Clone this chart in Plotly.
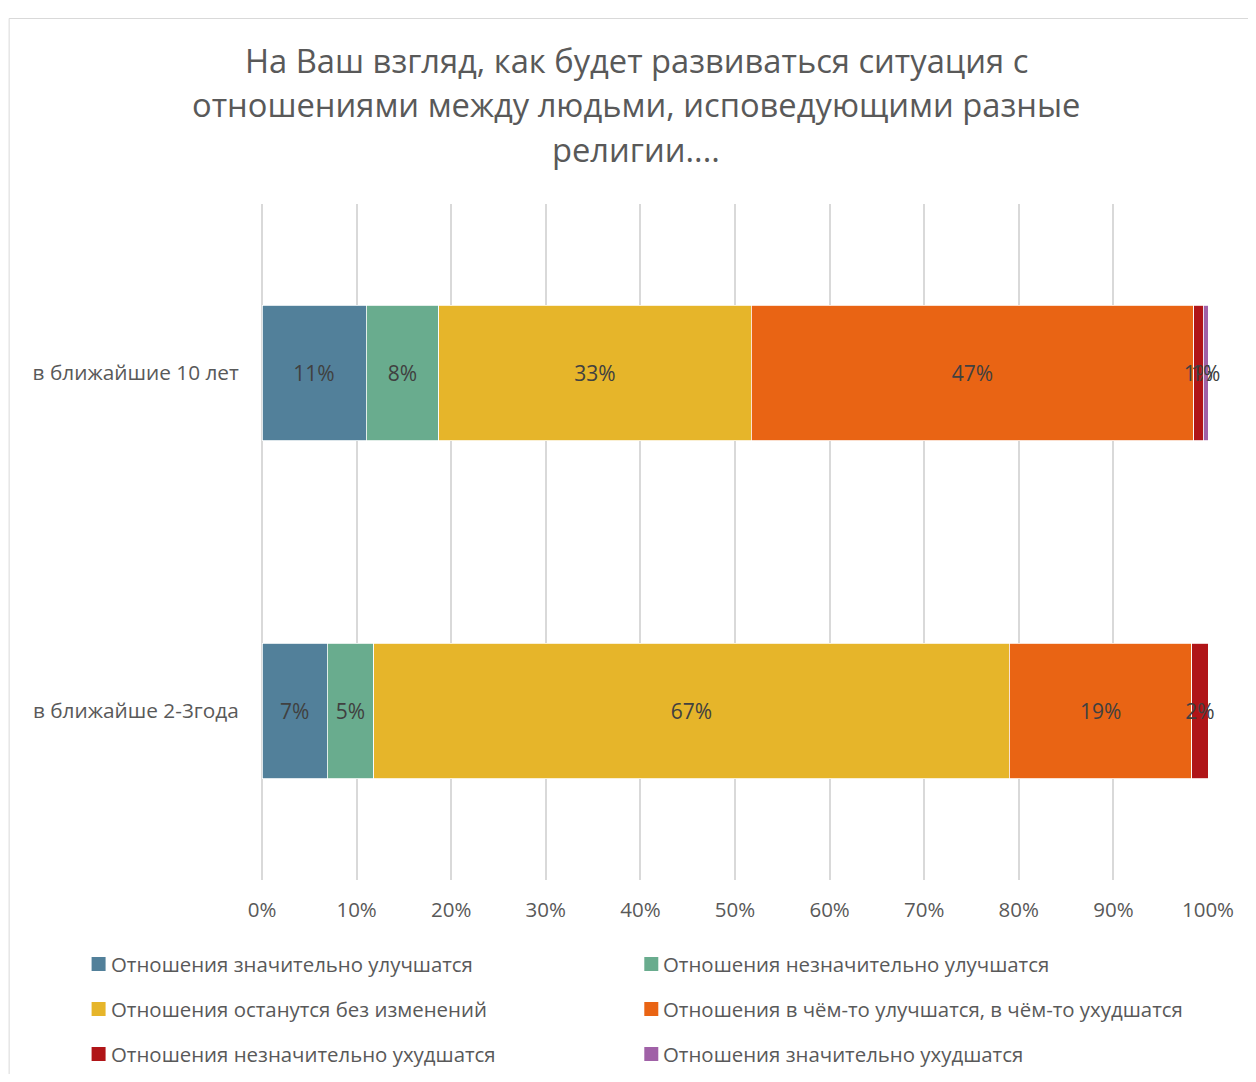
import plotly.graph_objects as go

categories = ["в ближайше 2-3года", "в ближайшие 10 лет"]
series_names = [
    "Отношения значительно улучшатся",
    "Отношения незначительно улучшатся",
    "Отношения останутся без изменений",
    "Отношения в чём-то улучшатся, в чём-то ухудшатся",
    "Отношения незначительно ухудшатся",
    "Отношения значительно ухудшатся",
]
# values per series: [2-3 years, 10 years]
values = [
    [6.9, 11.0],
    [4.9, 7.7],
    [67.2, 33.0],
    [19.3, 46.8],
    [1.7, 1.0],
    [0.0, 0.5],
]
colors = ["#52809a", "#69ac8e", "#e6b52a", "#e96414", "#b01518", "#a061a7"]
x_ticks = [0, 10, 20, 30, 40, 50, 60, 70, 80, 90, 100]
title_lines = [
    "На Ваш взгляд, как будет развиваться ситуация с",
    "отношениями между людьми, исповедующими разные",
    "религии....",
]

FONT = "Open Sans"
W, H = 1240, 1066
ML, MR, MT, MB = 253.5, 40, 196, 194
PW, PH = W - ML - MR, H - MT - MB


def px_x(p):
    return (p - ML) / PW


def px_y(p):
    return (H - MB - p) / PH


fig = go.Figure()
for name, vals, col in zip(series_names, values, colors):
    labels = [f"{int(v + 0.5)}%" if v > 0 else "" for v in vals]
    fig.add_trace(go.Bar(
        y=categories, x=vals, name=name, orientation="h",
        marker=dict(color=col, line=dict(width=0.8, color="white")),
        text=labels, textposition="inside", insidetextanchor="middle",
        textangle=0,
        textfont=dict(family=FONT, size=21, color="#404040"),
        constraintext="none", cliponaxis=False, showlegend=False,
        width=0.4,
    ))

annotations = []
for i, line in enumerate(title_lines):
    annotations.append(dict(
        text=line, x=px_x(628), y=px_y(52 + 45 * i), xref="paper", yref="paper",
        xanchor="center", yanchor="middle", showarrow=False,
        font=dict(family=FONT, size=32.7, color="#595959"),
    ))

shapes = []
# chart border
shapes.append(dict(type="rect", xref="paper", yref="paper",
                   x0=px_x(0.5), x1=px_x(1300), y0=px_y(10.5), y1=px_y(1200),
                   line=dict(color="#d9d9d9", width=1), fillcolor="rgba(0,0,0,0)",
                   layer="below"))

# manual legend (3 rows x 2 columns)
col_x = [83, 636]
row_y = [956, 1001, 1046]
for i, (name, col) in enumerate(zip(series_names, colors)):
    cx = col_x[i % 2]
    cy = row_y[i // 2]
    shapes.append(dict(type="rect", xref="paper", yref="paper",
                       x0=px_x(cx), x1=px_x(cx + 14), y0=px_y(cy - 7), y1=px_y(cy + 7),
                       line=dict(width=0), fillcolor=col))
    annotations.append(dict(
        text=name, x=px_x(cx + 17), y=px_y(cy), xref="paper", yref="paper",
        xanchor="left", yanchor="middle", showarrow=False,
        font=dict(family=FONT, size=20.4, color="#595959"),
    ))

fig.update_layout(
    width=W, height=H, barmode="stack",
    margin=dict(l=ML, r=MR, t=MT, b=MB, autoexpand=False),
    paper_bgcolor="white", plot_bgcolor="white",
    xaxis=dict(range=[0, 100], tickvals=x_ticks, ticktext=[f"{t}%" for t in x_ticks],
               showgrid=True, gridcolor="#d9d9d9", gridwidth=1.5,
               zeroline=True, zerolinecolor="#d9d9d9", zerolinewidth=1.5,
               showline=False, ticks="outside", ticklen=11, tickcolor="white",
               tickfont=dict(family=FONT, size=20.5, color="#595959")),
    yaxis=dict(categoryorder="array", categoryarray=categories, range=[-0.5, 1.5],
               showgrid=False, zeroline=False, showline=False, ticks="outside", ticklen=18,
               tickcolor="white",
               tickfont=dict(family=FONT, size=20.8, color="#595959")),
    annotations=annotations, shapes=shapes,
    showlegend=False,
)

fig.write_html("out.html")
